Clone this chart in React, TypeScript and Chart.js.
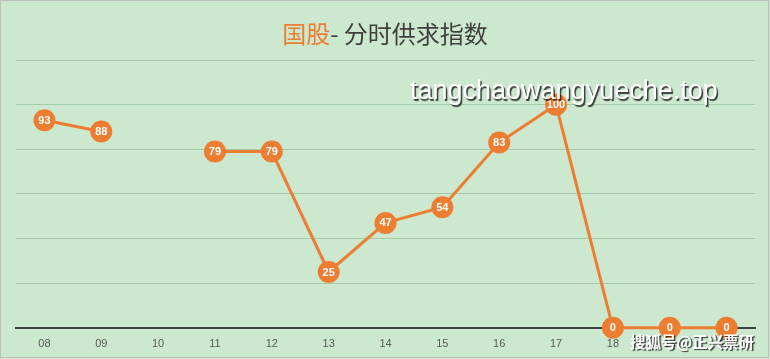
import React, { useEffect, useRef } from "react";
import { Chart, registerables } from "chart.js";

Chart.register(...registerables);

const categories = ["08", "09", "10", "11", "12", "13", "14", "15", "16", "17", "18", "19", "20"];
const supplyIndex: (number | null)[] = [93, 88, null, 79, 79, 25, 47, 54, 83, 100, 0, 0, 0];
const yMin = 0;
const yMax = 120;
const yStep = 20;
const titleMain = "国股";
const titleRest = "- 分时供求指数";
const watermarkTop = "tangchaowangyueche.top";
const watermarkBottom = "搜狐号@正兴票研";

const ORANGE = "#ED7D31";
const BG = "#CCE8CF";

const bgPlugin = {
  id: "bgPlugin",
  beforeDraw(chart: any) {
    const { ctx, width, height } = chart;
    ctx.save();
    ctx.fillStyle = BG;
    ctx.fillRect(0, 0, width, height);
    ctx.strokeStyle = "#BFBFBF";
    ctx.lineWidth = 1;
    ctx.strokeRect(0.5, 0.5, width - 2, height - 2);
    ctx.restore();
  },
};

const overlayPlugin = {
  id: "overlayPlugin",
  afterDatasetsDraw(chart: any) {
    const { ctx } = chart;
    const meta = chart.getDatasetMeta(0);
    ctx.save();
    ctx.fillStyle = "#FFFFFF";
    ctx.font = "bold 11px 'Liberation Sans', Arial, sans-serif";
    ctx.textAlign = "center";
    ctx.textBaseline = "middle";
    meta.data.forEach((pt: any, i: number) => {
      const v = supplyIndex[i];
      if (v === null || v === undefined) return;
      ctx.fillText(String(v), pt.x, pt.y + 0.5);
    });
    ctx.restore();
  },
  afterDraw(chart: any) {
    const { ctx, width } = chart;
    ctx.save();
    // title
    ctx.font = "24px 'Noto Sans CJK SC', sans-serif";
    ctx.textBaseline = "middle";
    const w1 = ctx.measureText(titleMain).width;
    const w2 = ctx.measureText(titleRest).width;
    const x0 = width / 2 - (w1 + w2) / 2;
    ctx.textAlign = "left";
    ctx.fillStyle = ORANGE;
    ctx.fillText(titleMain, x0, 34);
    ctx.fillStyle = "#404040";
    ctx.fillText(titleRest, x0 + w1, 34);

    // watermarks
    ctx.shadowColor = "rgba(0,0,0,0.75)";
    ctx.shadowOffsetX = 1.5;
    ctx.shadowOffsetY = 1.5;
    ctx.shadowBlur = 1;
    ctx.fillStyle = "#FFFFFF";
    ctx.font = "27px 'Liberation Sans', Arial, sans-serif";
    ctx.textBaseline = "alphabetic";
    ctx.fillText(watermarkTop, 410, 99);
    ctx.font = "bold 15.5px 'Noto Sans CJK SC', sans-serif";
    ctx.textBaseline = "middle";
    ctx.fillText(watermarkBottom, 630, 342);
    ctx.restore();
  },
};

export default function App() {
  const ref = useRef<HTMLCanvasElement | null>(null);
  useEffect(() => {
    document.body.style.margin = "0";
    if (!ref.current) return;
    const chart = new Chart(ref.current, {
      type: "line",
      data: {
        labels: categories,
        datasets: [
          {
            data: supplyIndex,
            borderColor: ORANGE,
            backgroundColor: ORANGE,
            borderWidth: 3,
            pointRadius: 11,
            pointHoverRadius: 11,
            pointBackgroundColor: ORANGE,
            pointBorderColor: ORANGE,
            pointBorderWidth: 0,
            spanGaps: false,
            tension: 0,
            clip: false,
          },
        ],
      },
      options: {
        animation: false,
        responsive: false,
        maintainAspectRatio: false,
        layout: { padding: { left: 16, right: 15, top: 60, bottom: -2 } },
        plugins: { legend: { display: false }, tooltip: { enabled: false }, title: { display: false } },
        scales: {
          x: {
            offset: true,
            grid: { display: false, drawTicks: false },
            border: { display: true, color: "#404040", width: 2 },
            ticks: {
              color: "#595959",
              font: { size: 11, family: "'Liberation Sans', Arial, sans-serif" },
              padding: 10,
              maxRotation: 0,
              autoSkip: false,
            },
          },
          y: {
            min: yMin,
            max: yMax,
            ticks: { display: false, stepSize: yStep },
            grid: { color: "#A3CBA6", lineWidth: 1, drawTicks: false },
            border: { display: false },
          },
        },
      },
      plugins: [bgPlugin, overlayPlugin],
    });
    return () => chart.destroy();
  }, []);
  return (
    <div style={{ position: "absolute", left: 0, top: 0, width: 770, height: 359 }}>
      <canvas ref={ref} width={770} height={359} style={{ display: "block", width: 770, height: 359 }} />
    </div>
  );
}
